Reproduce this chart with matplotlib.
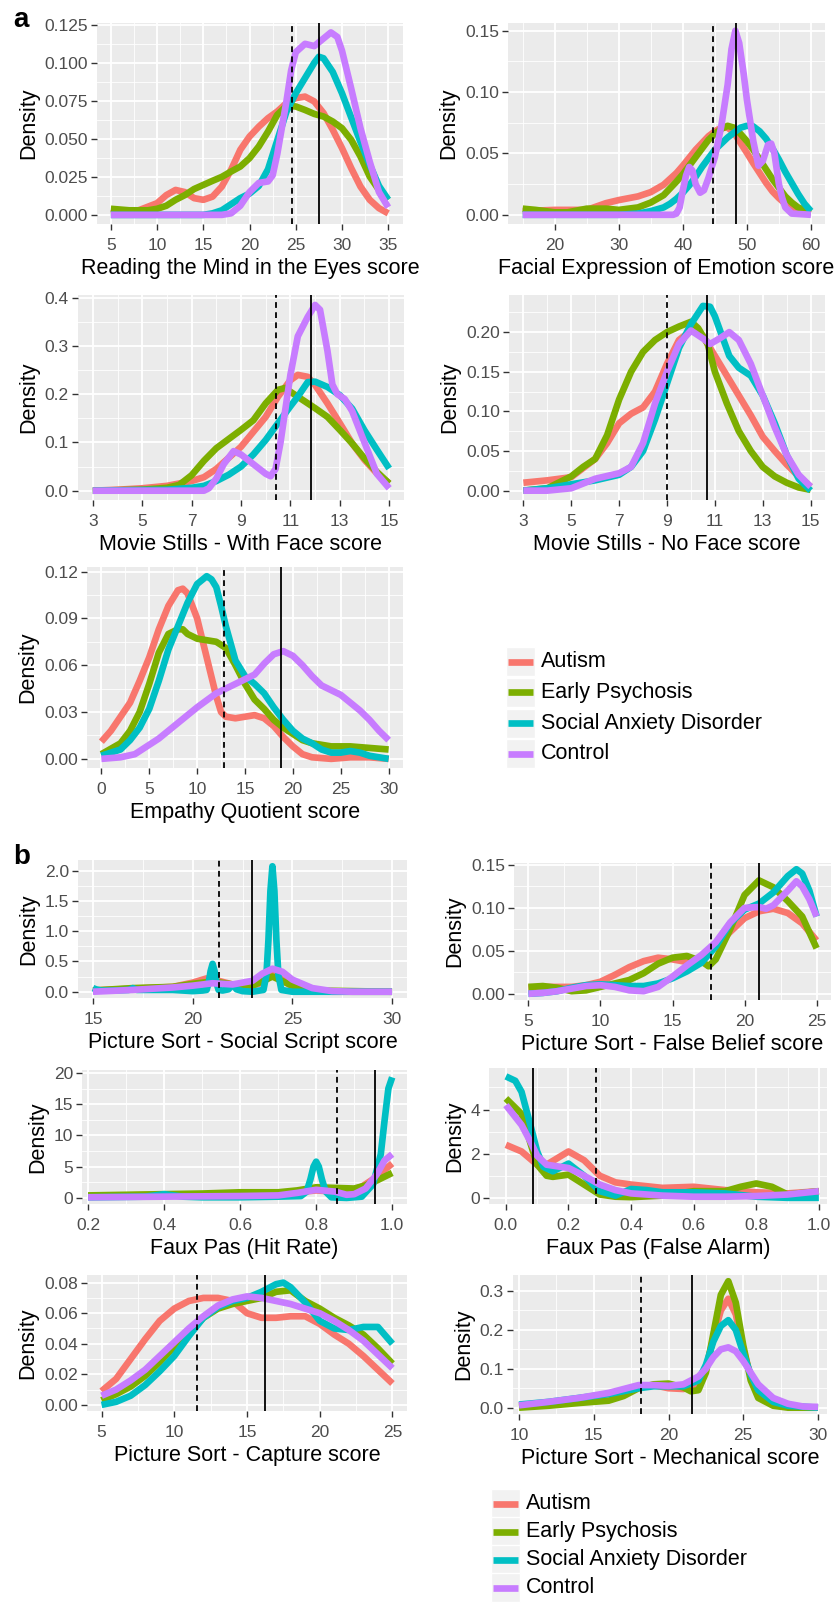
import matplotlib
matplotlib.use("Agg")
import matplotlib.pyplot as plt
from matplotlib.ticker import FixedLocator, AutoMinorLocator, FormatStrFormatter
from matplotlib.lines import Line2D
from matplotlib.patches import Rectangle

plt.rcParams['font.family'] = ['Liberation Sans', 'DejaVu Sans']

GROUPS = ["Autism", "Early Psychosis", "Social Anxiety Disorder", "Control"]
COLORS = ["#F8766D", "#7CAE00", "#00BFC4", "#C77CFF"]

# ---------------- a1: Reading the Mind in the Eyes ----------------
RMET_AUT_X = [5, 7, 8, 10, 11, 12, 13, 14, 15, 16, 17, 18, 19, 20, 21, 22, 23, 24, 25, 26, 27, 28, 29, 30, 31, 32, 33, 34, 35]
RMET_AUT_Y = [0.001, 0.002, 0.003, 0.0077, 0.013, 0.0164, 0.015, 0.011, 0.0099, 0.012, 0.0186, 0.0296, 0.0428, 0.0515, 0.058, 0.0636, 0.068, 0.0735, 0.0768, 0.0778, 0.0746, 0.067, 0.056, 0.0439, 0.0307, 0.0186, 0.0099, 0.0044, 0.001]
RMET_EP_X = [5, 7, 9, 10, 11, 12, 13, 14, 15, 16, 17, 18, 19, 20, 21, 22, 23, 24, 25, 26, 27, 28, 29, 30, 31, 32, 33, 34, 35]
RMET_EP_Y = [0.004, 0.003, 0.003, 0.004, 0.006, 0.0099, 0.013, 0.017, 0.0197, 0.0224, 0.025, 0.0285, 0.0318, 0.0373, 0.045, 0.0548, 0.0658, 0.0717, 0.0713, 0.069, 0.0664, 0.0647, 0.0614, 0.057, 0.0493, 0.0384, 0.0252, 0.0164, 0.0099]
RMET_SAD_X = [5, 15, 16, 17, 18, 19, 20, 21, 22, 23, 24, 25, 26, 27, 27.5, 28, 29, 30, 31, 32, 33, 34, 35]
RMET_SAD_Y = [0.0, 0.0, 0.001, 0.003, 0.007, 0.011, 0.014, 0.019, 0.030, 0.049, 0.068, 0.080, 0.090, 0.100, 0.104, 0.103, 0.094, 0.080, 0.064, 0.048, 0.033, 0.019, 0.010]
RMET_CON_X = [5, 17, 18, 19, 20, 21, 22, 22.5, 23, 24, 24.5, 25, 26, 27, 28, 28.8, 29.5, 30, 31, 32, 33, 34, 35]
RMET_CON_Y = [0.0, 0.0, 0.001, 0.006, 0.015, 0.021, 0.022, 0.026, 0.040, 0.075, 0.095, 0.107, 0.1125, 0.111, 0.116, 0.120, 0.117, 0.108, 0.083, 0.057, 0.035, 0.015, 0.005]

# ---------------- a2: Facial Expression of Emotion ----------------
FEE_AUT_X = [15, 20, 25, 28, 30, 33, 35, 37, 39, 40, 42, 44, 45, 46, 47, 48, 49, 50, 51, 52, 53, 54, 55, 56, 57, 58, 60]
FEE_AUT_Y = [0.003, 0.004, 0.004, 0.0095, 0.012, 0.015, 0.0185, 0.0245, 0.034, 0.040, 0.053, 0.064, 0.068, 0.071, 0.071, 0.067, 0.0586, 0.0505, 0.042, 0.034, 0.026, 0.019, 0.0136, 0.009, 0.0055, 0.003, 0.001]
FEE_EP_X = [15, 17, 20, 22, 25, 28, 30, 33, 35, 37, 39, 40, 41, 42, 43, 44, 45, 46, 47, 48, 49, 50, 51, 52, 53, 54, 55, 56, 57, 58, 59, 60]
FEE_EP_Y = [0.005, 0.004, 0.002, 0.002, 0.005, 0.005, 0.004, 0.006, 0.010, 0.016, 0.027, 0.033, 0.040, 0.047, 0.054, 0.061, 0.066, 0.070, 0.0725, 0.071, 0.066, 0.060, 0.053, 0.045, 0.037, 0.029, 0.022, 0.015, 0.010, 0.006, 0.004, 0.002]
FEE_SAD_X = [15, 30, 33, 35, 37, 38, 39, 40, 41, 42, 43, 44, 45, 46, 47, 48, 49, 50, 51, 52, 53, 54, 55, 56, 57, 58, 59, 60]
FEE_SAD_Y = [0.0, 0.0, 0.001, 0.003, 0.006, 0.009, 0.013, 0.018, 0.024, 0.031, 0.039, 0.046, 0.053, 0.058, 0.063, 0.067, 0.071, 0.0725, 0.072, 0.068, 0.062, 0.054, 0.045, 0.035, 0.026, 0.017, 0.009, 0.003]
FEE_CON_X = [15, 38.5, 39, 39.5, 40, 40.5, 41, 41.5, 42, 42.7, 43.3, 44, 45, 46, 47, 47.6, 48.2, 48.8, 49.5, 50, 51, 51.8, 52.5, 53.3, 53.8, 54.3, 55, 55.5, 56, 57, 60]
FEE_CON_Y = [0.0, 0.0, 0.001, 0.006, 0.020, 0.032, 0.039, 0.036, 0.025, 0.018, 0.020, 0.030, 0.047, 0.072, 0.106, 0.135, 0.150, 0.140, 0.115, 0.094, 0.060, 0.040, 0.044, 0.057, 0.058, 0.050, 0.025, 0.014, 0.006, 0.001, 0.0]

# ---------------- a3: Movie Stills - With Face ----------------
MSF_AUT_X = [3, 4, 5, 6, 7, 7.5, 8, 9, 10, 10.5, 11, 11.3, 11.7, 12, 12.5, 13, 13.5, 14, 14.5, 15]
MSF_AUT_Y = [0.0, 0.002, 0.005, 0.010, 0.020, 0.028, 0.045, 0.091, 0.153, 0.195, 0.229, 0.240, 0.236, 0.219, 0.181, 0.140, 0.098, 0.064, 0.036, 0.015]
MSF_EP_X = [3, 5, 6, 6.5, 7, 7.5, 8, 9, 9.5, 10, 10.5, 10.8, 11, 11.5, 12, 12.5, 13, 13.5, 14, 14.5, 15]
MSF_EP_Y = [0.0, 0.002, 0.006, 0.012, 0.032, 0.062, 0.088, 0.126, 0.146, 0.181, 0.209, 0.213, 0.205, 0.188, 0.171, 0.153, 0.126, 0.098, 0.067, 0.039, 0.015]
MSF_SAD_X = [3, 6, 7, 7.5, 8, 8.5, 9, 9.5, 10, 10.5, 11, 11.3, 11.7, 12, 12.5, 13, 13.5, 14, 14.5, 15]
MSF_SAD_Y = [0.0, 0.002, 0.006, 0.010, 0.020, 0.033, 0.050, 0.075, 0.105, 0.140, 0.175, 0.195, 0.225, 0.226, 0.215, 0.198, 0.170, 0.125, 0.085, 0.046]
MSF_CON_X = [3, 7.5, 7.7, 8, 8.3, 8.7, 9, 9.5, 10, 10.2, 10.4, 10.6, 10.8, 11, 11.3, 11.7, 12, 12.2, 12.5, 12.7, 12.9, 13.2, 13.5, 14, 14.5, 15]
MSF_CON_Y = [0.0, 0.0, 0.005, 0.025, 0.055, 0.082, 0.075, 0.055, 0.035, 0.030, 0.045, 0.100, 0.170, 0.240, 0.320, 0.360, 0.385, 0.375, 0.290, 0.220, 0.200, 0.190, 0.165, 0.100, 0.035, 0.005]

# ---------------- a4: Movie Stills - No Face ----------------
MSN_AUT_X = [3, 4, 5, 6, 6.5, 7, 7.5, 8, 8.5, 9, 9.5, 10, 10.5, 11, 11.5, 12, 12.5, 13, 13.5, 14, 14.5, 15]
MSN_AUT_Y = [0.010, 0.013, 0.017, 0.040, 0.060, 0.085, 0.097, 0.105, 0.125, 0.160, 0.190, 0.202, 0.195, 0.170, 0.145, 0.120, 0.095, 0.068, 0.050, 0.033, 0.018, 0.005]
MSN_EP_X = [3, 4, 5, 5.5, 6, 6.5, 7, 7.5, 8, 8.5, 9, 9.5, 10, 10.3, 10.7, 11, 11.5, 12, 12.5, 13, 13.5, 14, 14.5, 15]
MSN_EP_Y = [0.0, 0.003, 0.018, 0.030, 0.040, 0.070, 0.115, 0.150, 0.175, 0.190, 0.200, 0.207, 0.213, 0.205, 0.185, 0.150, 0.110, 0.075, 0.050, 0.030, 0.018, 0.010, 0.004, 0.001]
MSN_SAD_X = [3, 4, 5, 6, 7, 7.5, 8, 8.5, 9, 9.5, 10, 10.5, 10.8, 11, 11.3, 11.6, 12, 12.5, 13, 13.5, 14, 14.5, 15]
MSN_SAD_Y = [0.0, 0.003, 0.008, 0.013, 0.020, 0.030, 0.050, 0.090, 0.135, 0.180, 0.210, 0.233, 0.232, 0.220, 0.195, 0.170, 0.155, 0.145, 0.120, 0.085, 0.045, 0.015, 0.0]
MSN_CON_X = [3, 4, 5, 6, 7, 7.5, 8, 8.5, 9, 9.5, 10, 10.5, 10.8, 11.2, 11.6, 12, 12.5, 13, 13.5, 14, 14.5, 15]
MSN_CON_Y = [0.0, 0.0, 0.003, 0.015, 0.022, 0.030, 0.060, 0.110, 0.150, 0.185, 0.202, 0.192, 0.185, 0.192, 0.200, 0.190, 0.160, 0.120, 0.080, 0.045, 0.020, 0.005]

# ---------------- a5: Empathy Quotient ----------------
EQ_AUT_X = [0, 1, 2, 3, 4, 5, 6, 7, 8, 8.5, 9, 10, 11, 12, 12.5, 13, 14, 15, 16, 17, 18, 19, 20, 21, 22, 24, 26, 28, 30]
EQ_AUT_Y = [0.011, 0.018, 0.027, 0.036, 0.050, 0.065, 0.083, 0.098, 0.108, 0.109, 0.106, 0.090, 0.065, 0.040, 0.030, 0.027, 0.026, 0.027, 0.028, 0.026, 0.021, 0.014, 0.008, 0.003, 0.001, 0.0, 0.001, 0.001, 0.0]
EQ_EP_X = [0, 2, 3, 4, 5, 6, 7, 8, 8.5, 9, 10, 11, 12, 13, 14, 15, 16, 17, 18, 19, 20, 21, 22, 24, 26, 28, 30]
EQ_EP_Y = [0.003, 0.010, 0.018, 0.030, 0.048, 0.068, 0.080, 0.083, 0.083, 0.080, 0.077, 0.076, 0.075, 0.071, 0.060, 0.048, 0.038, 0.032, 0.025, 0.020, 0.016, 0.012, 0.010, 0.008, 0.008, 0.007, 0.006]
EQ_SAD_X = [0, 2, 3, 4, 5, 6, 7, 8, 9, 10, 11, 11.5, 12, 12.5, 13, 14, 15, 16, 17, 18, 19, 20, 21, 22, 23, 24, 25, 26, 27, 28, 30]
EQ_SAD_Y = [0.002, 0.006, 0.012, 0.020, 0.032, 0.050, 0.070, 0.085, 0.100, 0.112, 0.117, 0.115, 0.110, 0.098, 0.085, 0.063, 0.053, 0.048, 0.042, 0.033, 0.025, 0.018, 0.013, 0.010, 0.006, 0.004, 0.004, 0.005, 0.004, 0.002, 0.0]
EQ_CON_X = [0, 2, 3.5, 5, 6, 8, 10, 12, 14, 16, 17, 18, 19, 20, 21, 22, 23, 24, 25, 26, 27, 28, 29, 30]
EQ_CON_Y = [0.0, 0.001, 0.003, 0.009, 0.013, 0.023, 0.033, 0.042, 0.048, 0.054, 0.061, 0.067, 0.069, 0.066, 0.060, 0.053, 0.047, 0.044, 0.041, 0.036, 0.031, 0.025, 0.018, 0.012]

# ---------------- b1: Picture Sort - Social Script ----------------
SS_AUT_X = [15, 17, 19, 20, 20.7, 21.3, 22, 23, 23.5, 24, 24.5, 25, 26, 27, 30]
SS_AUT_Y = [0.02, 0.05, 0.08, 0.15, 0.22, 0.18, 0.12, 0.10, 0.15, 0.28, 0.20, 0.08, 0.02, 0.0, 0.0]
SS_EP_X = [15, 17, 19, 20, 21, 22, 23, 24, 25, 26, 30]
SS_EP_Y = [0.02, 0.06, 0.08, 0.13, 0.17, 0.12, 0.10, 0.25, 0.10, 0.02, 0.0]
SS_SAD_X = [15, 15.15, 15.4, 16, 16.8, 17, 17.2, 18, 19, 20, 20.5, 20.7, 20.8, 20.9, 21.0, 21.1, 21.2, 21.3, 21.5, 21.8, 22, 22.2, 22.5, 23, 23.55, 23.7, 23.8, 23.9, 24.0, 24.1, 24.2, 24.3, 24.45, 25, 27, 30]
SS_SAD_Y = [0.06, 0.04, 0.02, 0.02, 0.03, 0.06, 0.03, 0.03, 0.03, 0.01, 0.02, 0.03, 0.14, 0.34, 0.46, 0.34, 0.14, 0.03, 0.02, 0.04, 0.12, 0.04, 0.01, 0.0, 0.03, 0.28, 0.85, 1.66, 2.07, 1.66, 0.85, 0.28, 0.03, 0.0, 0.0, 0.0]
SS_CON_X = [15, 17, 19, 20, 21, 22, 23, 23.5, 24, 24.5, 25, 26, 27, 28, 30]
SS_CON_Y = [0.0, 0.03, 0.07, 0.10, 0.14, 0.12, 0.18, 0.30, 0.38, 0.33, 0.20, 0.06, 0.01, 0.0, 0.0]

# ---------------- b2: Picture Sort - False Belief ----------------
FB_X = [5, 6, 7, 8, 9, 10, 11, 12, 13, 14, 15, 16, 17, 18, 19, 20, 21, 22, 23, 24, 25]
FB_AUT_Y = [0.007, 0.008, 0.008, 0.008, 0.010, 0.014, 0.022, 0.031, 0.038, 0.042, 0.040, 0.037, 0.040, 0.055, 0.072, 0.088, 0.096, 0.099, 0.094, 0.082, 0.062]
FB_EP_X = [5, 6, 7, 8, 9, 10, 11, 12, 13, 14, 15, 16, 17, 17.5, 18, 19, 20, 21, 22, 23, 24, 25]
FB_EP_Y = [0.008, 0.009, 0.007, 0.003, 0.004, 0.008, 0.012, 0.016, 0.024, 0.035, 0.042, 0.044, 0.038, 0.032, 0.040, 0.075, 0.115, 0.132, 0.124, 0.108, 0.090, 0.053]
FB_SAD_X = [5, 6, 7, 8, 9, 10, 11, 12, 13, 14, 15, 16, 17, 18, 19, 20, 21, 22, 23, 23.6, 24, 24.5, 25]
FB_SAD_Y = [0.0, 0.001, 0.003, 0.007, 0.010, 0.011, 0.010, 0.009, 0.009, 0.012, 0.018, 0.026, 0.036, 0.055, 0.082, 0.098, 0.105, 0.118, 0.137, 0.145, 0.140, 0.120, 0.090]
FB_CON_X = [5, 6, 7, 8, 9, 10, 11, 12, 13, 14, 15, 16, 17, 18, 19, 20, 21, 21.5, 22, 23, 23.6, 24, 24.5, 25]
FB_CON_Y = [0.0, 0.001, 0.003, 0.006, 0.009, 0.010, 0.008, 0.004, 0.003, 0.008, 0.020, 0.033, 0.045, 0.060, 0.083, 0.100, 0.101, 0.099, 0.103, 0.120, 0.131, 0.125, 0.110, 0.090]

# ---------------- b3: Faux Pas (Hit Rate) ----------------
HR_AUT_X = [0.2, 0.4, 0.6, 0.7, 0.75, 0.8, 0.85, 0.88, 0.92, 0.95, 0.98, 1.0]
HR_AUT_Y = [0.3, 0.5, 0.6, 0.7, 0.9, 1.2, 1.0, 1.0, 1.8, 3.0, 4.5, 5.5]
HR_EP_X = [0.2, 0.4, 0.5, 0.6, 0.7, 0.75, 0.8, 0.85, 0.9, 0.93, 0.96, 1.0]
HR_EP_Y = [0.4, 0.6, 0.7, 0.9, 0.9, 1.2, 1.7, 1.6, 1.5, 2.0, 2.8, 4.0]
HR_SAD_X = [0.2, 0.35, 0.4, 0.45, 0.5, 0.6, 0.7, 0.76, 0.775, 0.785, 0.793, 0.8, 0.807, 0.815, 0.825, 0.84, 0.88, 0.92, 0.95, 0.97, 0.98, 0.99, 1.0]
HR_SAD_Y = [0.1, 0.2, 0.6, 0.2, 0.1, 0.1, 0.2, 0.3, 1.0, 3.0, 5.0, 5.8, 5.0, 3.0, 1.0, 0.1, 0.0, 0.2, 2.2, 7.0, 12.4, 17.5, 19.3]
HR_CON_X = [0.2, 0.4, 0.6, 0.7, 0.75, 0.8, 0.85, 0.88, 0.9, 0.93, 0.96, 0.98, 1.0]
HR_CON_Y = [0.1, 0.2, 0.3, 0.4, 0.8, 1.3, 1.0, 0.5, 0.6, 1.5, 3.8, 6.0, 7.0]

# ---------------- b4: Faux Pas (False Alarm) ----------------
FA_AUT_X = [0.0, 0.05, 0.1, 0.13, 0.2, 0.25, 0.3, 0.35, 0.4, 0.5, 0.6, 0.7, 0.8, 0.9, 1.0]
FA_AUT_Y = [2.4, 2.1, 1.5, 1.5, 2.1, 1.7, 1.0, 0.7, 0.6, 0.45, 0.5, 0.35, 0.25, 0.2, 0.3]
FA_EP_X = [0.0, 0.05, 0.08, 0.1, 0.13, 0.15, 0.2, 0.25, 0.3, 0.35, 0.4, 0.5, 0.6, 0.7, 0.75, 0.8, 0.85, 0.9, 1.0]
FA_EP_Y = [4.5, 3.8, 2.4, 1.5, 1.0, 0.95, 1.05, 0.6, 0.15, 0.05, 0.03, 0.1, 0.3, 0.3, 0.5, 0.65, 0.5, 0.15, 0.3]
FA_SAD_X = [0.0, 0.03, 0.05, 0.08, 0.1, 0.12, 0.15, 0.2, 0.25, 0.3, 0.35, 0.4, 0.45, 0.5, 0.6, 0.7, 0.8, 0.9, 1.0]
FA_SAD_Y = [5.5, 5.3, 4.8, 3.2, 2.1, 1.4, 1.2, 1.55, 1.0, 0.3, 0.1, 0.4, 0.35, 0.25, 0.25, 0.2, 0.05, 0.0, 0.0]
FA_CON_X = [0.0, 0.05, 0.08, 0.1, 0.13, 0.2, 0.25, 0.3, 0.35, 0.4, 0.5, 0.6, 0.7, 0.8, 0.9, 1.0]
FA_CON_Y = [4.2, 3.3, 2.5, 1.9, 1.5, 1.35, 1.0, 0.6, 0.35, 0.2, 0.1, 0.05, 0.05, 0.08, 0.15, 0.3]

# ---------------- b5: Picture Sort - Capture ----------------
CAP_X = [5, 6, 7, 8, 9, 10, 11, 12, 13, 14, 15, 16, 17, 18, 19, 20, 21, 22, 23, 24, 25]
CAP_AUT_Y = [0.009, 0.017, 0.030, 0.043, 0.055, 0.063, 0.068, 0.070, 0.070, 0.068, 0.060, 0.057, 0.057, 0.058, 0.058, 0.053, 0.046, 0.040, 0.032, 0.023, 0.014]
CAP_EP_Y = [0.003, 0.007, 0.012, 0.019, 0.028, 0.038, 0.047, 0.057, 0.063, 0.066, 0.068, 0.070, 0.074, 0.075, 0.068, 0.063, 0.057, 0.052, 0.046, 0.037, 0.027]
CAP_SAD_X = [5, 6, 7, 8, 9, 10, 11, 12, 13, 14, 15, 16, 17, 17.5, 18, 19, 20, 21, 22, 23, 24, 25]
CAP_SAD_Y = [0.0, 0.002, 0.006, 0.013, 0.022, 0.032, 0.045, 0.057, 0.064, 0.068, 0.070, 0.074, 0.079, 0.080, 0.077, 0.067, 0.055, 0.050, 0.049, 0.051, 0.051, 0.040]
CAP_CON_Y = [0.006, 0.010, 0.016, 0.023, 0.032, 0.041, 0.050, 0.058, 0.065, 0.069, 0.071, 0.070, 0.068, 0.066, 0.063, 0.060, 0.055, 0.049, 0.042, 0.033, 0.024]

# ---------------- b6: Picture Sort - Mechanical ----------------
MEC_AUT_X = [10, 12, 14, 16, 18, 19, 20, 21, 22, 22.5, 23, 23.5, 24, 24.5, 25, 25.5, 26, 27, 28, 30]
MEC_AUT_Y = [0.005, 0.012, 0.022, 0.035, 0.055, 0.058, 0.050, 0.048, 0.060, 0.100, 0.180, 0.250, 0.280, 0.240, 0.150, 0.080, 0.035, 0.010, 0.002, 0.0]
MEC_EP_X = [10, 12, 14, 16, 17, 18, 19, 20, 21, 21.5, 22, 22.5, 23, 23.5, 24, 24.5, 25, 25.5, 26, 27, 28, 30]
MEC_EP_Y = [0.0, 0.005, 0.012, 0.018, 0.030, 0.050, 0.060, 0.062, 0.052, 0.042, 0.045, 0.090, 0.190, 0.290, 0.325, 0.270, 0.160, 0.070, 0.025, 0.005, 0.0, 0.0]
MEC_SAD_X = [10, 12, 14, 16, 18, 19, 20, 21, 22, 22.5, 23, 23.5, 24, 24.5, 25, 25.5, 26, 27, 28, 30]
MEC_SAD_Y = [0.008, 0.015, 0.025, 0.035, 0.050, 0.055, 0.055, 0.055, 0.070, 0.110, 0.170, 0.210, 0.225, 0.200, 0.140, 0.085, 0.045, 0.015, 0.005, 0.0]
MEC_CON_X = [10, 12, 14, 16, 17, 18, 19, 20, 21, 22, 22.5, 23, 23.5, 24, 24.5, 25, 25.5, 26, 27, 28, 29, 30]
MEC_CON_Y = [0.006, 0.015, 0.025, 0.038, 0.048, 0.058, 0.058, 0.056, 0.060, 0.080, 0.100, 0.130, 0.150, 0.155, 0.145, 0.120, 0.090, 0.060, 0.025, 0.010, 0.003, 0.002]

# Reference lines (dashed, solid)
VLINES = {
    "rmet": (24.61, 27.53), "fee": (44.77, 48.28), "msf": (10.40, 11.82),
    "msn": (9.01, 10.68), "eq": (12.77, 18.79), "ss": (21.34, 22.96),
    "fb": (17.64, 21.03), "hr": (0.8556, 0.9546), "fa": (0.2875, 0.0873),
    "cap": (11.58, 16.25), "mec": (18.14, 21.55),
}

# ---------------- layout ----------------
W, H = 839, 1605
fig = plt.figure(figsize=(W / 100, H / 100), dpi=100)
fig.patch.set_facecolor("white")

PANEL_BG = "#EBEBEB"
TICK_COL = "#4D4D4D"
LW = 4.8


def px_axes(l, t, r, b):
    return fig.add_axes([l / W, 1 - b / H, (r - l) / W, (b - t) / H])


def panel(box, curves, key, xlabel, xticks, yticks, xfmt, yfmt, xlim, ylim):
    ax = px_axes(*box)
    ax.set_facecolor(PANEL_BG)
    for s in ax.spines.values():
        s.set_visible(False)
    ax.set_axisbelow(True)
    for (xs, ys), c in zip(curves, COLORS):
        ax.plot(xs, ys, color=c, lw=LW, solid_capstyle="butt", solid_joinstyle="round", zorder=3)
    d, s = VLINES[key]
    ax.axvline(d, color="black", lw=1.3, ls=(0, (3.2, 2.4)), zorder=4)
    ax.axvline(s, color="black", lw=1.3, zorder=4)
    ax.set_xlim(*xlim)
    ax.set_ylim(*ylim)
    ax.xaxis.set_major_locator(FixedLocator(xticks))
    ax.yaxis.set_major_locator(FixedLocator(yticks))
    ax.xaxis.set_minor_locator(AutoMinorLocator(2))
    ax.yaxis.set_minor_locator(AutoMinorLocator(2))
    ax.xaxis.set_major_formatter(FormatStrFormatter(xfmt))
    ax.yaxis.set_major_formatter(FormatStrFormatter(yfmt))
    ax.grid(which="major", color="white", lw=1.3)
    ax.grid(which="minor", color="white", lw=0.6)
    ax.tick_params(which="major", length=4, width=1.0, color="#333333",
                   labelsize=12.5, labelcolor=TICK_COL)
    ax.tick_params(axis="x", which="major", pad=6)
    ax.tick_params(axis="y", which="major", pad=2.5)
    ax.tick_params(which="minor", length=0)
    ax.set_xlabel(xlabel, fontsize=15.5, labelpad=4)
    ax.set_ylabel("Density", fontsize=15.5, labelpad=4)
    return ax


panel((97, 23, 403, 224),
      [(RMET_AUT_X, RMET_AUT_Y), (RMET_EP_X, RMET_EP_Y), (RMET_SAD_X, RMET_SAD_Y), (RMET_CON_X, RMET_CON_Y)],
      "rmet", "Reading the Mind in the Eyes score",
      [5, 10, 15, 20, 25, 30, 35], [0, 0.025, 0.05, 0.075, 0.1, 0.125], "%d", "%.3f",
      (3.5, 36.6), (-0.006, 0.1262))
panel((508, 23, 825, 224),
      [(FEE_AUT_X, FEE_AUT_Y), (FEE_EP_X, FEE_EP_Y), (FEE_SAD_X, FEE_SAD_Y), (FEE_CON_X, FEE_CON_Y)],
      "fee", "Facial Expression of Emotion score",
      [20, 30, 40, 50, 60], [0, 0.05, 0.1, 0.15], "%d", "%.2f",
      (12.7, 62.2), (-0.0075, 0.1563))
panel((78, 295, 404, 500),
      [(MSF_AUT_X, MSF_AUT_Y), (MSF_EP_X, MSF_EP_Y), (MSF_SAD_X, MSF_SAD_Y), (MSF_CON_X, MSF_CON_Y)],
      "msf", "Movie Stills - With Face score",
      [3, 5, 7, 9, 11, 13, 15], [0, 0.1, 0.2, 0.3, 0.4], "%d", "%.1f",
      (2.4, 15.6), (-0.0193, 0.4056))
panel((509, 295, 825, 500),
      [(MSN_AUT_X, MSN_AUT_Y), (MSN_EP_X, MSN_EP_Y), (MSN_SAD_X, MSN_SAD_Y), (MSN_CON_X, MSN_CON_Y)],
      "msn", "Movie Stills - No Face score",
      [3, 5, 7, 9, 11, 13, 15], [0, 0.05, 0.1, 0.15, 0.2], "%d", "%.2f",
      (2.4, 15.6), (-0.0118, 0.2468))
panel((87, 567, 403, 768),
      [(EQ_AUT_X, EQ_AUT_Y), (EQ_EP_X, EQ_EP_Y), (EQ_SAD_X, EQ_SAD_Y), (EQ_CON_X, EQ_CON_Y)],
      "eq", "Empathy Quotient score",
      [0, 5, 10, 15, 20, 25, 30], [0, 0.03, 0.06, 0.09, 0.12], "%d", "%.2f",
      (-1.5, 31.5), (-0.00585, 0.1229))
panel((78, 860, 407, 998),
      [(SS_AUT_X, SS_AUT_Y), (SS_EP_X, SS_EP_Y), (SS_SAD_X, SS_SAD_Y), (SS_CON_X, SS_CON_Y)],
      "ss", "Picture Sort - Social Script score",
      [15, 20, 25, 30], [0, 0.5, 1.0, 1.5, 2.0], "%d", "%.1f",
      (14.25, 30.75), (-0.1035, 2.1735))
panel((514, 863, 831, 1000),
      [(FB_X, FB_AUT_Y), (FB_EP_X, FB_EP_Y), (FB_SAD_X, FB_SAD_Y), (FB_CON_X, FB_CON_Y)],
      "fb", "Picture Sort - False Belief score",
      [5, 10, 15, 20, 25], [0, 0.05, 0.1, 0.15], "%d", "%.2f",
      (4, 26), (-0.00725, 0.15225))
panel((82, 1070, 407, 1204),
      [(HR_AUT_X, HR_AUT_Y), (HR_EP_X, HR_EP_Y), (HR_SAD_X, HR_SAD_Y), (HR_CON_X, HR_CON_Y)],
      "hr", "Faux Pas (Hit Rate)",
      [0.2, 0.4, 0.6, 0.8, 1.0], [0, 5, 10, 15, 20], "%.1f", "%d",
      (0.184, 1.039), (-0.975, 20.475))
panel((489, 1068, 827, 1204),
      [(FA_AUT_X, FA_AUT_Y), (FA_EP_X, FA_EP_Y), (FA_SAD_X, FA_SAD_Y), (FA_CON_X, FA_CON_Y)],
      "fa", "Faux Pas (False Alarm)",
      [0, 0.2, 0.4, 0.6, 0.8, 1.0], [0, 2, 4], "%.1f", "%d",
      (-0.054, 1.026), (-0.28, 5.88))
panel((87, 1275, 407, 1411),
      [(CAP_X, CAP_AUT_Y), (CAP_X, CAP_EP_Y), (CAP_SAD_X, CAP_SAD_Y), (CAP_X, CAP_CON_Y)],
      "cap", "Picture Sort - Capture score",
      [5, 10, 15, 20, 25], [0, 0.02, 0.04, 0.06, 0.08], "%d", "%.2f",
      (4, 26), (-0.004, 0.085))
panel((513, 1275, 827, 1414),
      [(MEC_AUT_X, MEC_AUT_Y), (MEC_EP_X, MEC_EP_Y), (MEC_SAD_X, MEC_SAD_Y), (MEC_CON_X, MEC_CON_Y)],
      "mec", "Picture Sort - Mechanical score",
      [10, 15, 20, 25, 30], [0, 0.1, 0.2, 0.3], "%d", "%.1f",
      (9.6, 30.6), (-0.01625, 0.341))


def legend(left, top, row_h, key_w=29):
    for i, (g, c) in enumerate(zip(GROUPS, COLORS)):
        yt = top + i * row_h
        fig.patches.append(Rectangle((left / W, 1 - (yt + key_w) / H), key_w / W, key_w / H,
                                     transform=fig.transFigure, facecolor="#F2F2F2",
                                     edgecolor="white", lw=1.0))
        yc = 1 - (yt + key_w / 2) / H
        fig.lines.append(Line2D([(left + 2) / W, (left + key_w - 2) / W], [yc, yc],
                                transform=fig.transFigure, color=c, lw=LW,
                                solid_capstyle="butt"))
        fig.text((left + key_w + 6) / W, yc, g, fontsize=15.5, va="center", ha="left")


legend(506, 647, 30.8)
legend(491, 1489, 28.0)

fig.text(13 / W, 1 - 20 / H, "a", fontsize=20, fontweight="bold", va="center", ha="left")
fig.text(13 / W, 1 - 857 / H, "b", fontsize=20, fontweight="bold", va="center", ha="left")

fig.savefig("out.png", dpi=100)
